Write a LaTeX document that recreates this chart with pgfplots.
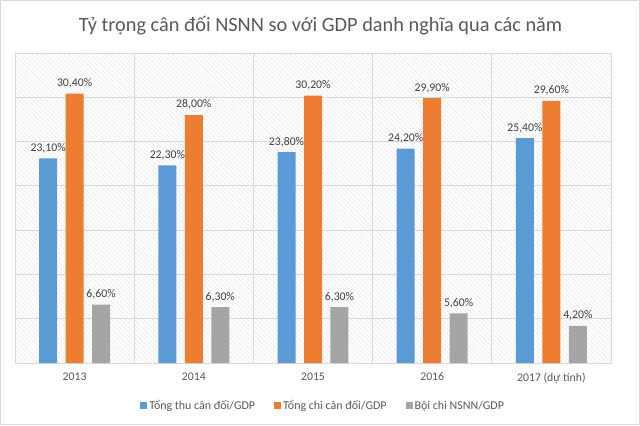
\documentclass[border=0pt]{standalone}
\usepackage{fontspec}
\setmainfont{Carlito}
\usepackage{pgfplots}
\pgfplotsset{compat=1.18}
\usetikzlibrary{patterns.meta}
\definecolor{cblue}{HTML}{5B9BD5}
\definecolor{corange}{HTML}{ED7D31}
\definecolor{cgray}{HTML}{A5A5A5}
\definecolor{gridc}{HTML}{D9D9D9}
\definecolor{txt}{HTML}{595959}
\definecolor{lbl}{HTML}{404040}
\begin{document}
\begin{tikzpicture}[x=1bp,y=1bp]
\draw[gridc,line width=1bp] (0.5,0.5) rectangle (639.5,424.5);
\node[txt,font=\fontsize{20.4}{24}\selectfont] at (320.5,399) {Tỷ trọng cân đối NSNN so với GDP danh nghĩa qua các năm};
\begin{axis}[
  at={(15bp,62bp)}, anchor=south west,
  scale only axis, width=596bp, height=310bp,
  ybar, bar width=0.151,
  xmin=-0.5, xmax=4.5, ymin=0, ymax=35,
  xtick={0,1,2,3,4},
  xticklabels={2013,2014,2015,2016,2017 (dự tính)},
  minor xtick={-0.5,0.5,1.5,2.5,3.5,4.5},
  ytick={0,5,10,15,20,25,30,35}, yticklabels={},
  xmajorgrids=false, xminorgrids=true, ymajorgrids=true,
  grid style={gridc, line width=0.8bp},
  minor grid style={gridc, line width=0.8bp},
  major tick length=0pt, minor tick length=0pt,
  axis line style={gridc, line width=0.8bp},
  ticklabel style={txt, font=\fontsize{11.8}{13}\selectfont},
  xticklabel style={yshift=-6bp},
  axis background/.style={pattern={Lines[angle=-45,distance=3.2bp,line width=0.5bp]}, pattern color=gray!22},
  /pgf/number format/assume math mode=true,
  nodes near coords={\pgfmathprintnumber[fixed,fixed zerofill,precision=2,use comma]{\pgfplotspointmeta}\%},
  every node near coord/.append style={lbl, font=\fontsize{11.8}{13}\selectfont, yshift=2bp},
  legend columns=3,
  legend style={at={(0.517,-0.138)}, anchor=center, draw=none, fill=none,
     font=\fontsize{12}{13}\selectfont, text=txt,
     /tikz/every even column/.append style={column sep=17bp}},
  legend image code/.code={\fill[#1,draw=none] (0bp,-3.5bp) rectangle (7bp,3.5bp);},
]
\addplot[fill=cblue, draw=none, bar shift=-0.222] coordinates {(0,23.1) (1,22.3) (2,23.8) (3,24.2) (4,25.4)};
\addplot[fill=corange, draw=none, bar shift=0.0] coordinates {(0,30.4) (1,28.0) (2,30.2) (3,29.9) (4,29.6)};
\addplot[fill=cgray, draw=none, bar shift=0.222] coordinates {(0,6.6) (1,6.3) (2,6.3) (3,5.6) (4,4.2)};
\legend{Tổng thu cân đối/GDP, Tổng chi cân đối/GDP, Bội chi NSNN/GDP}
\end{axis}
\end{tikzpicture}
\end{document}
